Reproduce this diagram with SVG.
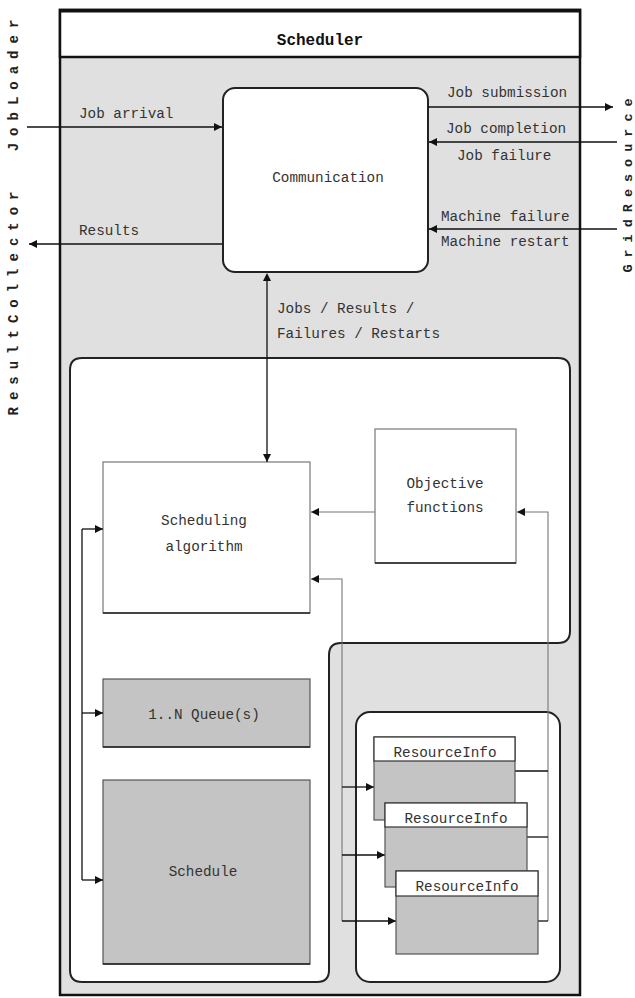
<svg xmlns="http://www.w3.org/2000/svg" width="635" height="998" viewBox="0 0 635 998">
<style>
.t{font-family:"Liberation Mono","Courier New",monospace;font-size:14.3px;fill:#333}
.c{text-anchor:middle}
.ext{font-family:"Liberation Mono","Courier New",monospace;font-size:14px;font-weight:bold;fill:#222;letter-spacing:7px}
.ln{stroke:#111;stroke-width:1.3;fill:none}
.gl{stroke:#777;stroke-width:1.1;fill:none}
.box{fill:#fff;stroke:#777;stroke-width:1.2}
.dk{fill:#c4c4c4;stroke:#555;stroke-width:1.2}
</style>
<defs>
<marker id="ah" viewBox="0 0 10 10" refX="10" refY="5" markerWidth="8" markerHeight="8" markerUnits="userSpaceOnUse" orient="auto"><path d="M0,0 L10,5 L0,10 z" fill="#111"/></marker>
<marker id="as" viewBox="0 0 10 10" refX="0" refY="5" markerWidth="8" markerHeight="8" markerUnits="userSpaceOnUse" orient="auto-start-reverse"><path d="M0,0 L10,5 L0,10 z" fill="#111"/></marker>
</defs>

<g id="scheduler">
<rect x="60" y="10" width="520" height="985" fill="#e0e0e0" stroke="#111" stroke-width="2.5"/>
<rect x="60" y="10" width="520" height="47" fill="#fff" stroke="#111" stroke-width="2.5"/>
<line x1="60" y1="11" x2="580" y2="11" stroke="#111" stroke-width="3"/>
<text x="320" y="45" class="t c" style="font-size:16px;font-weight:bold;fill:#111">Scheduler</text>
</g>

<g id="inner-region">
<path d="M70,370 Q70,358 82,358 H558 Q570,358 570,370 V631 Q570,643 558,643 H341 Q329,643 329,655 V970 Q329,982 317,982 H82 Q70,982 70,970 Z" fill="#fff" stroke="#222" stroke-width="2"/>
</g>

<g id="resource-group">
<rect x="356" y="712" width="204" height="270" rx="14" fill="#fff" stroke="#222" stroke-width="2"/>
</g>

<g id="external-labels">
<text transform="translate(18,82) rotate(-90)" class="ext c">JobLoader</text>
<text transform="translate(18,300) rotate(-90)" class="ext c">ResultCollector</text>
<text transform="translate(632,182) rotate(-90)" class="ext c" style="font-size:13.5px">GridResource</text>
</g>

<g id="communication">
<rect x="223" y="88" width="205" height="184" rx="12" fill="#fff" stroke="#222" stroke-width="2"/>
<text x="328" y="182" class="t c">Communication</text>
</g>

<g id="scheduling-algorithm">
<rect x="103" y="462" width="207" height="151" class="box"/>
<line x1="103" y1="613" x2="310" y2="613" stroke="#222" stroke-width="1.5"/>
<text x="204" y="525" class="t c">Scheduling</text>
<text x="204" y="551" class="t c">algorithm</text>
</g>

<g id="objective-functions">
<rect x="375" y="429" width="141" height="134" class="box"/>
<line x1="375" y1="563" x2="516" y2="563" stroke="#222" stroke-width="1.5"/>
<text x="445" y="488" class="t c">Objective</text>
<text x="445" y="512" class="t c">functions</text>
</g>

<g id="queues">
<rect x="103" y="679" width="207" height="68" class="dk"/>
<line x1="103" y1="747" x2="310" y2="747" stroke="#222" stroke-width="1.5"/>
<text x="204" y="719" class="t c">1..N Queue(s)</text>
</g>

<g id="schedule">
<rect x="103" y="780" width="207" height="184" class="dk"/>
<line x1="103" y1="964" x2="310" y2="964" stroke="#222" stroke-width="1.5"/>
<text x="203" y="876" class="t c">Schedule</text>
</g>

<g id="connectors">
<line x1="27" y1="127" x2="222" y2="127" class="ln" marker-end="url(#ah)"/>
<line x1="222" y1="244" x2="29" y2="244" class="ln" marker-end="url(#ah)"/>
<line x1="428" y1="107" x2="613" y2="107" class="ln" marker-end="url(#ah)"/>
<line x1="617" y1="142" x2="429" y2="142" class="ln" marker-end="url(#ah)"/>
<line x1="617" y1="229" x2="429" y2="229" class="ln" marker-end="url(#ah)"/>
<line x1="267" y1="281" x2="267" y2="462" class="ln" marker-start="url(#as)" marker-end="url(#ah)"/>
<line x1="375" y1="512" x2="311" y2="512" class="gl" marker-end="url(#ah)"/>
<polyline points="548,921 548,512 517,512" class="gl" marker-end="url(#ah)"/>
<polyline points="342,921 342,579 311,579" class="gl" marker-end="url(#ah)"/>
<line x1="82" y1="529" x2="82" y2="880" class="ln"/>
<line x1="82" y1="529" x2="103" y2="529" class="ln" marker-end="url(#ah)"/>
<line x1="82" y1="713" x2="103" y2="713" class="ln" marker-end="url(#ah)"/>
<line x1="82" y1="880" x2="103" y2="880" class="ln" marker-end="url(#ah)"/>
<line x1="342" y1="787" x2="374" y2="787" class="ln" marker-end="url(#ah)"/>
<line x1="342" y1="855" x2="385" y2="855" class="ln" marker-end="url(#ah)"/>
<line x1="342" y1="921" x2="396" y2="921" class="ln" marker-end="url(#ah)"/>
<line x1="515" y1="771" x2="548" y2="771" class="ln"/>
<line x1="527" y1="837" x2="548" y2="837" class="ln"/>
<line x1="538" y1="921" x2="548" y2="921" class="ln"/>
</g>

<g id="connector-labels">
<text x="79" y="118" class="t">Job arrival</text>
<text x="79" y="235" class="t">Results</text>
<text x="447" y="97" class="t">Job submission</text>
<text x="446" y="133" class="t">Job completion</text>
<text x="457" y="160" class="t">Job failure</text>
<text x="441" y="221" class="t">Machine failure</text>
<text x="441" y="246" class="t">Machine restart</text>
<text x="277" y="313" class="t">Jobs / Results /</text>
<text x="277" y="338" class="t">Failures / Restarts</text>
</g>

<g id="resource-info-1">
<rect x="374" y="737" width="141" height="83" class="dk" stroke="#333"/>
<rect x="374" y="737" width="141" height="24" fill="#fff" stroke="#333" stroke-width="1.2"/>
<text x="445" y="757" class="t c">ResourceInfo</text>
</g>
<g id="resource-info-2">
<rect x="385" y="803" width="142" height="84" class="dk" stroke="#333"/>
<rect x="385" y="803" width="142" height="24" fill="#fff" stroke="#333" stroke-width="1.2"/>
<text x="456" y="823" class="t c">ResourceInfo</text>
</g>
<g id="resource-info-3">
<rect x="396" y="871" width="142" height="83" class="dk" stroke="#333"/>
<rect x="396" y="871" width="142" height="25" fill="#fff" stroke="#333" stroke-width="1.2"/>
<text x="467" y="891" class="t c">ResourceInfo</text>
</g>
</svg>
